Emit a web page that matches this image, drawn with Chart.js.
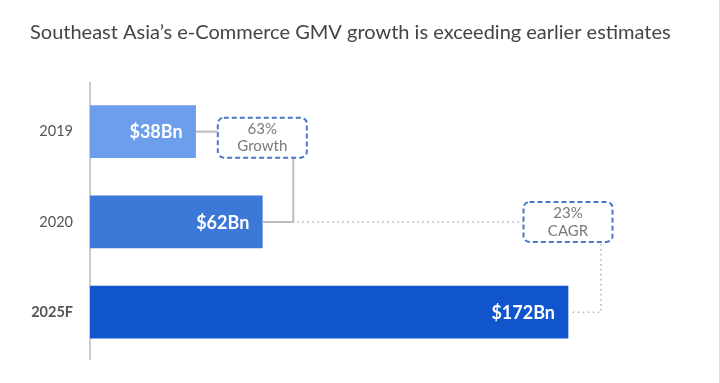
<!DOCTYPE html>
<html>
<head>
<meta charset="utf-8">
<script src="https://cdn.jsdelivr.net/npm/chart.js@4.4.1/dist/chart.umd.min.js"></script>
<style>
  html, body { margin: 0; padding: 0; background: #fff; }
  #wrap { position: relative; width: 720px; height: 383px; }
  canvas { display: block; }
</style>
</head>
<body>
<div id="wrap"><canvas id="c" width="720" height="383"></canvas></div>
<script>
const titleText = "Southeast Asia’s e-Commerce GMV growth is exceeding earlier estimates";
const categories = ["2019", "2020", "2025F"];
const gmvValues = [38, 62, 172];
const valueLabels = ["$38Bn", "$62Bn", "$172Bn"];
const barColors = ["#6d9eeb", "#3c78d8", "#1155cc"];
const growthLines = ["63%", "Growth"];
const cagrLines = ["23%", "CAGR"];

const FONT = "Lato, 'Open Sans', sans-serif";

function roundRect(ctx, x, y, w, h, r) {
  ctx.beginPath();
  ctx.moveTo(x + r, y);
  ctx.lineTo(x + w - r, y);
  ctx.arcTo(x + w, y, x + w, y + r, r);
  ctx.lineTo(x + w, y + h - r);
  ctx.arcTo(x + w, y + h, x + w - r, y + h, r);
  ctx.lineTo(x + r, y + h);
  ctx.arcTo(x, y + h, x, y + h - r, r);
  ctx.lineTo(x, y + r);
  ctx.arcTo(x, y, x + r, y, r);
  ctx.closePath();
}

const decorPlugin = {
  id: 'decor',
  beforeDraw(chart) {
    const ctx = chart.ctx;
    ctx.save();
    ctx.fillStyle = '#fff';
    ctx.fillRect(0, 0, chart.width, chart.height);
    // title
    ctx.fillStyle = '#444';
    ctx.font = "20px " + FONT;
    ctx.textAlign = 'left';
    ctx.textBaseline = 'middle';
    ctx.fillText(titleText, 30, 33);
    // right frame edge
    ctx.fillStyle = '#dcdcdc';
    ctx.fillRect(719, 0, 1, chart.height);
    // axis line
    const ca = chart.chartArea;
    ctx.fillStyle = '#cccccc';
    ctx.fillRect(ca.left - 1, ca.top - 4.5, 2, ca.bottom - ca.top + 7);
    ctx.restore();
  },
  afterDatasetsDraw(chart) {
    const ctx = chart.ctx;
    const meta = chart.getDatasetMeta(0);
    const xs = chart.scales.x;
    const bars = meta.data;
    ctx.save();
    // value labels
    ctx.fillStyle = '#fff';
    ctx.font = "bold 18px " + FONT;
    ctx.textAlign = 'right';
    ctx.textBaseline = 'middle';
    bars.forEach((b, i) => {
      ctx.fillText(valueLabels[i], b.x - 13, b.y + 1);
    });

    const boxW = 89, boxH = 40;
    // box 1: centered at end of 2020 bar, near 2019 row
    const b1cx = xs.getPixelForValue(gmvValues[1]);
    const b1cy = bars[0].y + 6;
    const b1x = b1cx - boxW / 2, b1y = b1cy - boxH / 2;
    // box 2: centered at end of 2025F bar, at 2020 row
    const b2cx = xs.getPixelForValue(gmvValues[2]);
    const b2cy = bars[1].y;
    const b2x = b2cx - boxW / 2, b2y = b2cy - boxH / 2;

    // solid connectors
    ctx.strokeStyle = '#bdbdbd';
    ctx.lineWidth = 2;
    ctx.setLineDash([]);
    ctx.beginPath();
    ctx.moveTo(bars[0].x, bars[0].y);
    ctx.lineTo(b1x, bars[0].y);
    ctx.stroke();
    const v1x = b1cx + 31;
    ctx.beginPath();
    ctx.moveTo(v1x, b1y + boxH);
    ctx.lineTo(v1x, bars[1].y);
    ctx.lineTo(bars[1].x, bars[1].y);
    ctx.stroke();

    // dotted connectors
    ctx.strokeStyle = '#b0b0b0';
    ctx.lineWidth = 1.5;
    ctx.setLineDash([1.5, 3.5]);
    ctx.beginPath();
    ctx.moveTo(v1x + 4, bars[1].y);
    ctx.lineTo(b2x, bars[1].y);
    ctx.stroke();
    const v2x = b2cx + 33;
    ctx.beginPath();
    ctx.moveTo(v2x, b2y + boxH + 2);
    ctx.lineTo(v2x, bars[2].y);
    ctx.lineTo(bars[2].x + 4, bars[2].y);
    ctx.stroke();

    // dashed boxes
    ctx.strokeStyle = '#4a76c4';
    ctx.lineWidth = 2;
    ctx.setLineDash([5, 3]);
    [[b1x, b1y], [b2x, b2y]].forEach(([x, y]) => {
      ctx.fillStyle = '#fff';
      roundRect(ctx, x, y, boxW, boxH, 6);
      ctx.fill();
      ctx.stroke();
    });
    ctx.setLineDash([]);

    // box texts
    ctx.fillStyle = '#7a7a7a';
    ctx.font = "15px " + FONT;
    ctx.textAlign = 'center';
    ctx.textBaseline = 'middle';
    ctx.fillText(growthLines[0], b1cx, b1cy - 8.5);
    ctx.fillText(growthLines[1], b1cx, b1cy + 9);
    ctx.fillText(cagrLines[0], b2cx, b2cy - 8.5);
    ctx.fillText(cagrLines[1], b2cx, b2cy + 9);
    ctx.restore();
  }
};

new Chart(document.getElementById('c'), {
  type: 'bar',
  data: {
    labels: categories,
    datasets: [{
      data: gmvValues,
      backgroundColor: barColors,
      borderWidth: 0,
      barThickness: 52
    }]
  },
  options: {
    indexAxis: 'y',
    responsive: false,
    animation: false,
    devicePixelRatio: 1,
    layout: { padding: { top: 86.5, bottom: 23.5, left: 0, right: 20 } },
    plugins: {
      legend: { display: false },
      tooltip: { enabled: false },
      title: { display: false }
    },
    scales: {
      x: {
        display: false,
        min: 0,
        max: 219.5
      },
      y: {
        afterFit(scale) { scale.width = 90; },
        grid: { display: false, drawTicks: false },
        border: { display: false },
        ticks: {
          padding: 17,
          color: '#555',
          font: (ctx) => ({
            family: FONT,
            size: 14.5,
            weight: ctx.index === 2 ? 'bold' : 'normal'
          })
        }
      }
    }
  },
  plugins: [decorPlugin]
});
</script>
</body>
</html>
